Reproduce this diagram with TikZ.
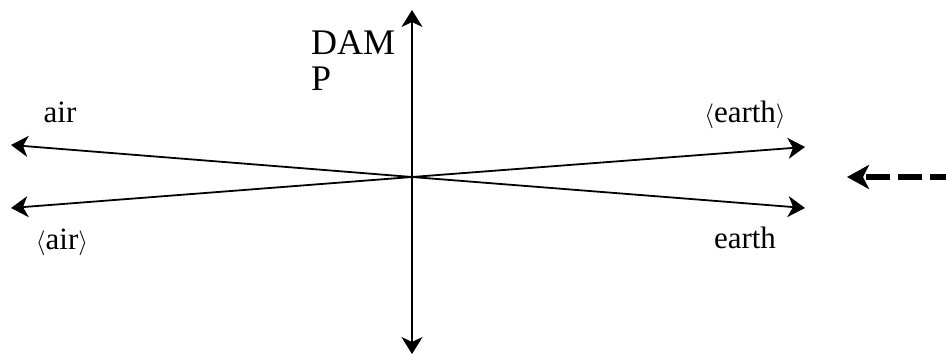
\documentclass[tikz,border=0pt]{standalone}
\usepackage{fontspec}
\setmainfont{Liberation Serif}
\usetikzlibrary{arrows.meta, positioning}

\begin{document}
\begin{tikzpicture}[
  x=1pt, y=-1pt,
  font=\fontsize{31}{36}\selectfont,
  lbl/.style={inner sep=0pt, anchor=base},
  arr/.style={-{Stealth[length=17pt, width=21pt, inset=5pt]}, line width=1.8pt},
  biarr/.style={{Stealth[length=17pt, width=21pt, inset=5pt]}-{Stealth[length=17pt, width=21pt, inset=5pt]}, line width=1.8pt},
  push/.style={-{Stealth[length=22pt, width=24pt, inset=6pt]}, line width=6pt,
               dash pattern=on 24pt off 8pt, dash phase=8pt}
]
\useasboundingbox (0,0) rectangle (946,355);
\coordinate (o) at (412,177);
\coordinate (top) at (412,10);
\coordinate (bot) at (412,354);
\coordinate (lu) at (11,145);
\coordinate (ll) at (11,208);
\coordinate (ru) at (805,147);
\coordinate (rl) at (805,208);
\coordinate (src) at (946,177);
\coordinate (dst) at (847,177);

\draw[biarr] (bot) -- (top);
\draw[arr] (o) -- (lu);
\draw[arr] (o) -- (ll);
\draw[arr] (o) -- (ru);
\draw[arr] (o) -- (rl);
\draw[push] (src) -- (dst);

\node[lbl] (air) at (60,123) {air};
\node[lbl] (nair) at (62,250) {$\langle$air$\rangle$};
\node[lbl] (nearth) at (745,123) {$\langle$earth$\rangle$};
\node[lbl] (earth) at (745,249) {earth};
\node[align=left, inner sep=0pt, anchor=north west,
      font=\fontsize{36}{36}\selectfont] (damp) at (311,31) {DAM\\P};
\end{tikzpicture}
\end{document}
